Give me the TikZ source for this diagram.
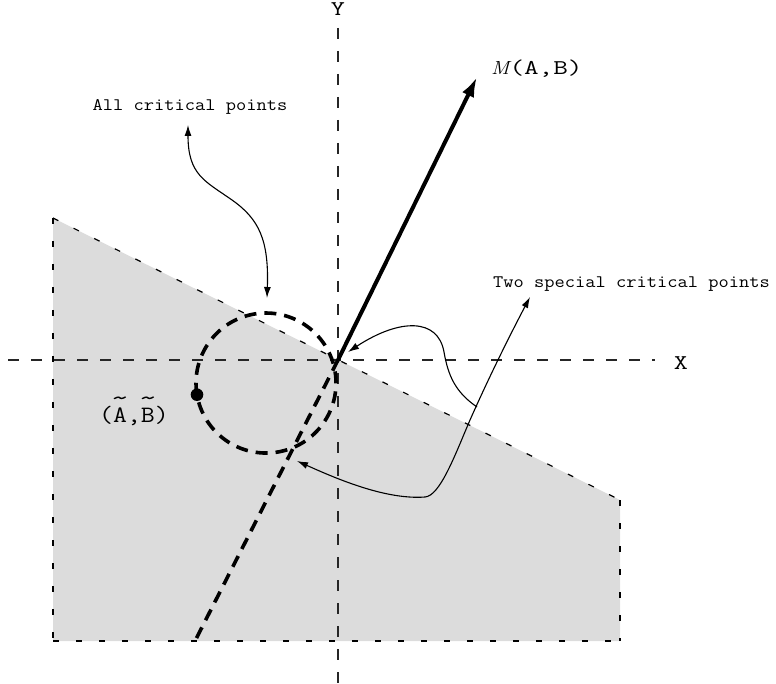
\documentclass[tikz,border=0pt]{standalone}
\usepackage{fontspec}
\usepackage{graphicx}
\usetikzlibrary{arrows.meta}
\definecolor{regionfill}{RGB}{220,220,220}
\newcommand\courtxt[3]{\fontsize{#1}{#1}\selectfont\ttfamily\scalebox{#2}[1]{#3}}
\newcommand\tildeon[1]{\setbox0\hbox{#1}\rlap{\hbox to \wd0{\hss\raisebox{0.72em}{\scalebox{1.35}[1]{\textasciitilde}}\hss}}\box0}
\begin{document}
\begin{tikzpicture}[x=1pt,y=-1pt,
  axis/.style={line width=1.1pt, dash pattern=on 11pt off 12pt, black!85},
  border/.style={line width=1.2pt, dash pattern=on 6pt off 17pt},
  heavydash/.style={line width=3.6pt, dash pattern=on 12pt off 8pt},
  curvy/.style={line width=1.1pt},
  tipsmall/.tip={Latex[length=11pt,width=7pt]},
  lbl/.style={inner sep=0pt, anchor=base}
]
\useasboundingbox (0,0) rectangle (776,684);
% region
\coordinate (P1) at (53,218);
\coordinate (P2) at (620,500);
\coordinate (P3) at (620,641);
\coordinate (P4) at (53,641);
\fill[regionfill] (P1) -- (P2) -- (P3) -- (P4) -- cycle;
\draw[border] (P1) -- (P2);
\draw[border] (P2) -- (P3);
\draw[border] (P4) -- (P3);
\draw[border] (P1) -- (P4);
% axes
\coordinate (O) at (338,360);
\coordinate (xl) at (8,360);
\coordinate (xr) at (655,360);
\coordinate (yt) at (338,28);
\coordinate (yb) at (338,684);
\draw[axis] (xl) -- (xr);
\draw[axis] (yt) -- (yb);
\node[lbl] (X) at (681,369.3) {\courtxt{21}{1.3}{X}};
\node[lbl] (Y) at (338,15.5) {\courtxt{21}{1.3}{Y}};
% circle of critical points
\coordinate (cc) at (266,383);
\coordinate (dotpt) at (197,394.7);
\draw[heavydash] (dotpt) arc[start angle=170.4, delta angle=360, radius=70];
\fill (dotpt) circle[radius=6.3];
% normal direction
\coordinate (M) at (477,77);
\coordinate (Lend) at (195,641);
\draw[line width=4pt, -{Latex[length=20pt,width=13pt]}] (O) -- (M);
\draw[heavydash] (O) -- (Lend);
% labels
\node[lbl] (allcp) at (190,110.7) {\courtxt{17.6}{1.13}{All critical points}};
\node[lbl] (twocp) at (631.5,288) {\courtxt{17.6}{1.13}{Two special critical points}};
\node[inner sep=0pt, anchor=base west] (mab) at (491,75) {\fontsize{19}{19}\selectfont\rmfamily\itshape\scalebox{1.1}[1]{M}\upshape\courtxt{21}{1.35}{(A,B)}};
\node[lbl] (abt) at (134,422.3) {\courtxt{23.5}{1.15}{(\tildeon{A},\tildeon{B})}};
% curved pointers
\coordinate (ac1) at (188,125);
\coordinate (ac2) at (267,298);
\draw[curvy, tipsmall-tipsmall] (ac1) .. controls (188,175) and (205,181) .. (232,200)
   .. controls (259,219) and (269,240) .. (ac2);
\coordinate (bc1) at (297,461);
\coordinate (bc2) at (530,297);
\draw[curvy, tipsmall-tipsmall] (bc1) .. controls (335,478) and (385,500) .. (425,497)
   .. controls (440,496) and (455,455) .. (470,420)
   .. controls (490,375) and (510,335) .. (bc2);
\coordinate (cstart) at (477,407);
\coordinate (ctip) at (348,352);
\draw[curvy, -tipsmall] (cstart) .. controls (455,392) and (448,375) .. (444,352)
   .. controls (438,318) and (400,318) .. (ctip);
\end{tikzpicture}
\end{document}
